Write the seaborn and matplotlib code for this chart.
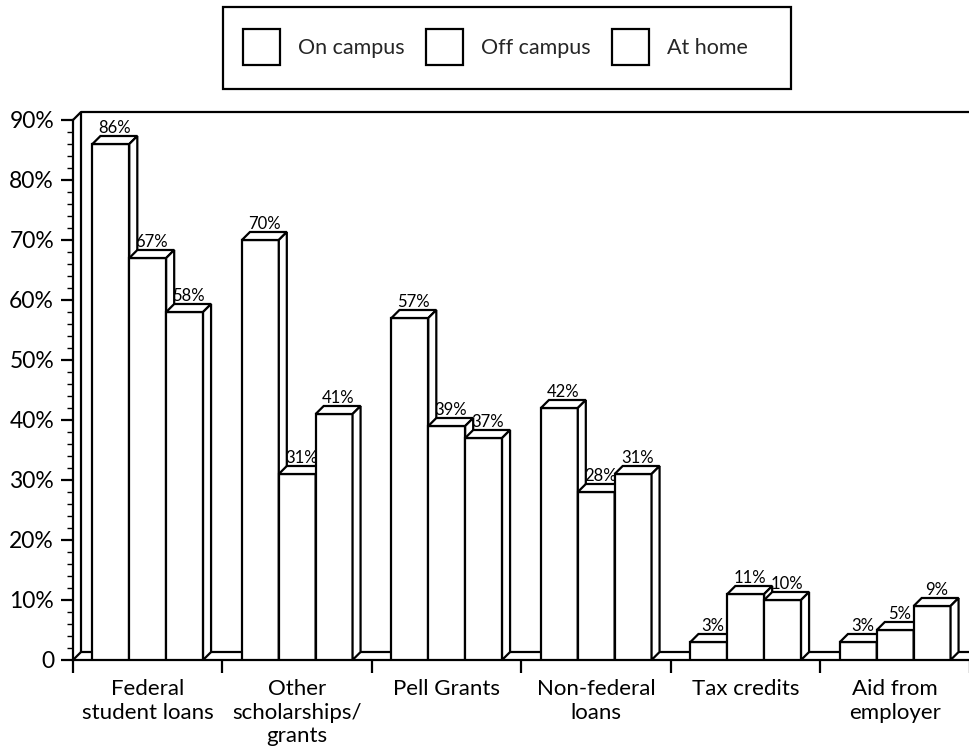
import matplotlib
matplotlib.use("Agg")
import matplotlib.pyplot as plt
from matplotlib.patches import Polygon, Rectangle, Patch
from matplotlib.ticker import FixedLocator
import numpy as np
import pandas as pd
import seaborn as sns

# Data
categories = ["Federal\nstudent loans", "Other\nscholarships/\ngrants", "Pell Grants",
              "Non-federal\nloans", "Tax credits", "Aid from\nemployer"]
series = ["On campus", "Off campus", "At home"]
on_campus = [86, 70, 57, 42, 3, 3]
off_campus = [67, 31, 39, 28, 11, 5]
at_home = [58, 41, 37, 31, 10, 9]
y_ticks = [0, 10, 20, 30, 40, 50, 60, 70, 80, 90]
y_tick_labels = ["0", "10%", "20%", "30%", "40%", "50%", "60%", "70%", "80%", "90%"]

values = {"On campus": on_campus, "Off campus": off_campus, "At home": at_home}
df = pd.DataFrame({
    "category": categories * len(series),
    "series": np.repeat(series, len(categories)),
    "value": on_campus + off_campus + at_home,
})

sns.set_theme(style="white")
plt.rcParams["font.family"] = ["Lato", "DejaVu Sans"]

W, H = 970, 749
fig = plt.figure(figsize=(W / 100, H / 100), dpi=100)
ax = fig.add_axes([73 / W, 89 / H, 897 / W, 540 / H])

LW = 1.6
sns.barplot(data=df, x="category", y="value", hue="series", order=categories,
            hue_order=series, palette=["white"] * 3, edgecolor="black",
            linewidth=LW, width=0.74, saturation=1, legend=False, ax=ax)

x_left, x_right = -0.5, 5.5
y_top = 90
ax.set_xlim(x_left, x_right)
ax.set_ylim(0, y_top)

# depth of the pseudo-3D extrusion, in data units
dx = 8 / 149.5
dy = 8 / 6.0

# give each bar a top and a side face; bars further right sit in front
rects = sorted(ax.patches, key=lambda p: p.get_x())
for k, r in enumerate(rects):
    z = 3 + k * 0.01
    x0, w, h = r.get_x(), r.get_width(), r.get_height()
    r.set_zorder(z)
    top = Polygon([(x0, h), (x0 + dx, h + dy), (x0 + w + dx, h + dy), (x0 + w, h)],
                  closed=True, facecolor="white", edgecolor="black", lw=LW,
                  zorder=z, joinstyle="miter")
    side = Polygon([(x0 + w, 0), (x0 + w + dx, dy), (x0 + w + dx, h + dy), (x0 + w, h)],
                   closed=True, facecolor="white", edgecolor="black", lw=LW,
                   zorder=z, joinstyle="miter")
    ax.add_patch(top)
    ax.add_patch(side)

# value labels above each bar
for cont, s in zip(ax.containers, series):
    for bar, v in zip(cont, values[s]):
        xc = bar.get_x() + bar.get_width() / 2 + dx / 2
        ax.annotate(f"{v}%", (xc, v + dy), xytext=(0, 2.2), textcoords="offset points",
                    ha="center", va="baseline", fontsize=12, color="black", zorder=10)

# back wall and floor outline
line_kw = dict(color="black", lw=LW, clip_on=False, zorder=1.5, solid_capstyle="butt")
ax.plot([x_left, x_left + dx, x_right], [y_top, y_top + dy, y_top + dy], **line_kw)
ax.plot([x_left + dx, x_left + dx], [dy, y_top + dy], **line_kw)
ax.plot([x_left, x_left + dx, x_right], [0, dy, dy], **line_kw)

# axes styling
for side_name in ["top", "right"]:
    ax.spines[side_name].set_visible(False)
for side_name in ["left", "bottom"]:
    ax.spines[side_name].set_color("black")
    ax.spines[side_name].set_linewidth(LW)

ax.yaxis.set_major_locator(FixedLocator(y_ticks))
ax.set_yticklabels(y_tick_labels)
ax.yaxis.set_minor_locator(FixedLocator(np.arange(0, 91, 2)))
ax.tick_params(axis="y", which="major", direction="out", length=8.6, width=LW,
               color="black", pad=5, labelsize=16.5, labelcolor="black", left=True)
ax.tick_params(axis="y", which="minor", direction="out", length=4.3, width=1.0,
               color="black", left=True)

ax.set_xticks(range(len(categories)))
ax.set_xticklabels(categories, linespacing=1.2)
ax.xaxis.set_minor_locator(FixedLocator(np.arange(x_left, x_right + 0.01, 1)))
ax.tick_params(axis="x", which="major", length=0, pad=14, labelsize=16,
               labelcolor="black")
ax.tick_params(axis="x", which="minor", direction="out", length=9, width=LW,
               color="black", bottom=True)
for lbl in ax.get_xticklabels():
    lbl.set_verticalalignment("top")
ax.set_xlabel("")
ax.set_ylabel("")
ax.grid(False)

# legend with an outlined frame
handles = [Patch(facecolor="white", edgecolor="black", lw=LW) for _ in series]
fig.legend(handles, series, loc="center left", bbox_to_anchor=(243 / W, 1 - 47 / H),
           ncol=3, frameon=False, fontsize=15.5, handlelength=1.7, handleheight=2.2,
           handletextpad=0.85, columnspacing=1.0, borderpad=0, borderaxespad=0)
fig.add_artist(Rectangle((223 / W, 1 - 89 / H), 568 / W, 82 / H, transform=fig.transFigure,
                         fill=False, edgecolor="black", lw=LW))

fig.savefig("out.png", dpi=100, facecolor="white")
